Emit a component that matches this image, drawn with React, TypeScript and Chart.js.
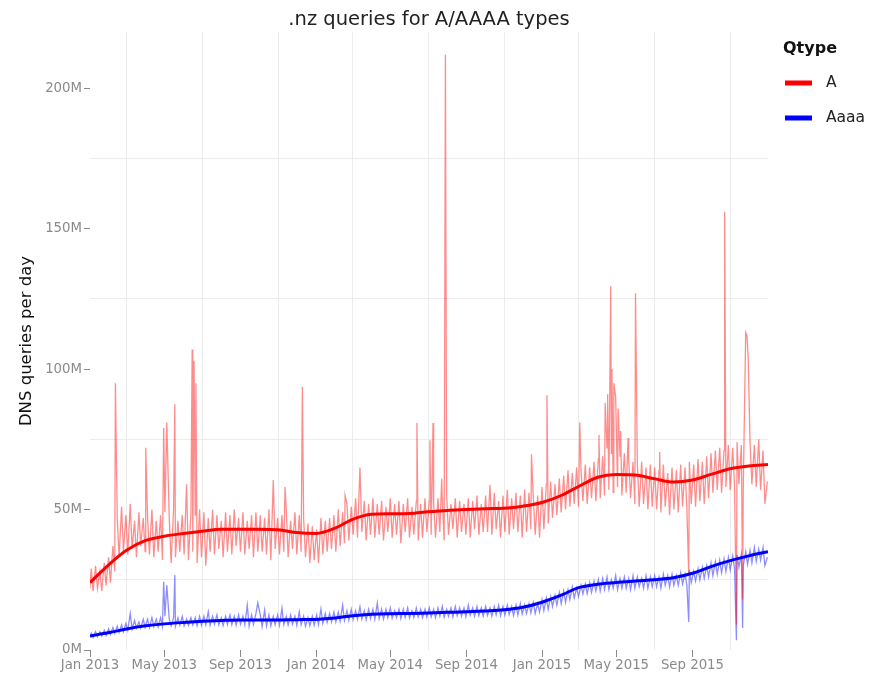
import React, { useEffect, useRef } from "react";
import { Chart, registerables } from "chart.js";

Chart.register(...registerables);

const FONT = '"DejaVu Sans", sans-serif';
const chartTitle = ".nz queries for A/AAAA types";
const yAxisTitle = "DNS queries per day";
const legendTitle = "Qtype";
const seriesNames = ["A", "Aaaa"];
const seriesColors = ["#ff0000", "#0000ff"];
const rawColors = ["rgba(255,0,0,0.45)", "rgba(0,0,255,0.45)"];

// x axis: months since Jan 2013
const startYear = 2013;
const totalMonths = 36;
const xMajorMonths = [0, 4, 8, 12, 16, 20, 24, 28, 32];
const xMajorLabels = ["Jan 2013", "May 2013", "Sep 2013", "Jan 2014", "May 2014", "Sep 2014", "Jan 2015", "May 2015", "Sep 2015"];
const xMinorMonths = [2, 6, 10, 14, 18, 22, 26, 30, 34];

// y axis (millions of queries)
const yMajorTicks = [0, 50, 100, 150, 200];
const yMajorLabels = ["0M", "50M", "100M", "150M", "200M"];
const yMinorTicks = [25, 75, 125, 175];
const yMax = 220;

// weekly weekday highs / weekend lows (M queries per day), weeks from 2013-01-01
const weekHighA = [
  29, 30, 28, 31, 33, 37, 47, 51, 48, 52, 46, 49, 47,
  47, 50, 46, 48, 49, 47, 50, 46, 48, 47, 49, 48, 50,
  49, 47, 50, 48, 46, 49, 48, 50, 47, 49, 46, 48, 49,
  48, 47, 50, 49, 47, 48, 50, 46, 49, 48, 47, 45, 44,
  43, 47, 46, 47, 48, 50, 49, 52, 51, 54, 55, 53, 52,
  54, 52, 53, 51, 54, 52, 53, 52, 54, 51, 53, 52, 54,
  53, 52, 54, 53, 55, 52, 54, 53, 52, 54, 53, 55, 52,
  55, 54, 56, 53, 55, 57, 54, 56, 55, 57, 56, 54, 55,
  58, 59, 60, 59, 61, 62, 64, 63, 65, 64, 66, 65, 67,
  68, 69, 72, 70, 71, 69, 70, 68, 67, 66, 67, 65, 66,
  65, 64, 66, 63, 65, 64, 66, 65, 67, 66, 68, 67, 69,
  70, 71, 72, 71, 73, 72, 74, 73, 72, 74, 73, 75, 71, 60,
];
const weekLowA = [
  21, 22, 21, 23, 24, 28, 33, 35, 34, 36, 33, 37, 35,
  34, 33, 35, 32, 36, 31, 33, 35, 34, 32, 35, 31, 33,
  30, 35, 34, 36, 33, 35, 34, 37, 35, 34, 36, 33, 35,
  35, 34, 32, 36, 34, 35, 33, 36, 34, 35, 33, 31, 32,
  31, 34, 35, 36, 35, 37, 38, 39, 41, 40, 42, 39, 41,
  40, 41, 39, 42, 40, 41, 38, 42, 40, 41, 39, 40, 42,
  41, 40, 42, 39, 41, 43, 40, 42, 41, 40, 43, 41, 42,
  42, 41, 43, 40, 42, 41, 43, 42, 40, 42, 43, 41, 40,
  43, 45, 47, 48, 49, 50, 51, 52, 51, 53, 52, 54, 53,
  54, 55, 57, 56, 58, 55, 56, 54, 52, 51, 52, 50, 51,
  50, 49, 51, 48, 50, 49, 51, 50, 52, 51, 53, 52, 54,
  56, 57, 56, 58, 57, 58, 59, 57, 58, 59, 58, 57, 52, 57,
];
const weekHighAaaa = [
  6, 6.5, 6.5, 7, 7.5, 8, 8.5, 9, 9.5, 13, 10.5, 10, 11,
  11, 11.5, 11, 11.5, 12, 11, 11.5, 11.5, 12, 11, 11.5, 11.5, 12,
  12, 13.6, 12, 12.5, 11.5, 12, 12.5, 12, 12.5, 12, 16, 12.5, 13,
  12.5, 14.2, 12.5, 12, 12.5, 14.9, 12, 12.5, 12, 13.6, 12, 11.5, 12,
  12.5, 14.6, 13, 13, 13.5, 13.5, 16, 14, 14.5, 14, 15.4, 14, 14.5,
  14.5, 16.7, 14.5, 14.5, 15, 14, 14.5, 14.5, 15, 14, 15, 14.5, 14.5,
  15, 14.5, 15, 15.5, 14.5, 15, 15.5, 15, 15, 16, 15, 15.5, 15,
  15.5, 15, 15.5, 16, 15.5, 16, 15.5, 16, 16.5, 16, 16.5, 17, 16.5,
  18, 18.5, 19, 19.5, 20.5, 21, 21.5, 22.5, 22, 23, 23.5, 24, 24.5,
  25, 25.5, 26, 25, 26.5, 25.5, 26, 25.5, 26.5, 26, 25.5, 26.5, 26,
  26.5, 26, 27, 26.5, 27, 26.5, 27.5, 27, 28.5, 28, 29, 29.5, 30,
  31, 31.5, 32, 32.5, 33, 33.5, 34, 34, 35, 35.5, 36.5, 36, 36.5, 33,
];
const weekLowAaaa = [
  4.5, 4.7, 5, 5.2, 5.5, 6, 6.2, 6.5, 7, 7.5, 7.8, 7.8, 8,
  8, 8.3, 8.2, 8.5, 8.4, 8.6, 8.5, 8.8, 8.5, 8.7, 8.9, 8.6, 8.8,
  9, 8.8, 9.2, 9, 8.7, 9.1, 9, 8.8, 9.2, 9, 8.5, 9.1, 8.9,
  8.3, 8.5, 8.6, 9, 8.8, 9, 8.9, 9.2, 8.8, 9, 8.5, 8.6, 8.8,
  9, 9.5, 9.8, 10, 10, 10.2, 10.5, 10.5, 10.8, 11, 11, 10.8, 11.2,
  11, 11.2, 11, 11.5, 11.3, 11.5, 11.2, 11.6, 11.4, 11.5, 11.8, 11.5, 11.7,
  11.8, 11.5, 12, 11.7, 12, 11.8, 12.2, 12, 11.8, 12.3, 12, 12.2, 12,
  12.3, 12, 12.5, 12.2, 12.4, 12.6, 12.3, 12.5, 12.8, 13, 13.2, 13, 13.5,
  14, 14.5, 15.5, 16, 16.5, 17, 18, 18.5, 19, 20, 20, 20.5, 21,
  21, 21.5, 21.5, 22, 21.5, 22, 22, 21.5, 22, 22.5, 22, 22, 22.5,
  22.5, 22, 23, 22.5, 23, 23, 23.5, 23, 24, 24.5, 25, 25.5, 26,
  26.5, 27, 27.5, 28, 28.5, 29, 29.5, 30, 30.5, 31, 31.5, 32, 30, 28.5,
];

// single-day spikes / dips (day index since 2013-01-01, value in M)
const spikeDaysA = [0, 41, 90, 119, 124, 137, 156, 165, 168, 171, 296, 315, 343, 412, 436, 528, 549, 554, 568, 574, 646, 713, 738, 791, 822, 832, 836, 841, 843, 846, 849, 853, 857, 869, 881, 920, 967, 1025, 1044, 1054, 1059, 1061, 1062, 1063];
const spikeValsA = [22, 95, 72, 79, 81, 87.5, 59, 107, 103, 95, 60.5, 58, 93.6, 55, 65, 80.8, 74.7, 80.8, 61, 212, 58.7, 69.7, 90.7, 81, 76.5, 88, 91, 129.5, 100, 95, 90, 86, 78, 75.5, 127, 70.5, 27, 156, 9, 18, 113, 112, 108, 104];
const spikeDaysAaaa = [0, 119, 124, 137, 271, 967, 1044, 1054];
const spikeValsAaaa = [4.5, 24.3, 23, 26.7, 16.8, 10, 3.5, 7.8];

// smoothed trend at each month start (Jan 2013 .. Jan 2016)
const smoothA = [24, 30.5, 35.5, 39, 40.5, 41.5, 42.3, 43, 43, 43, 42.8, 41.8, 41.5, 43.4, 46.5, 48.3, 48.5, 48.6, 49.2, 49.7, 50, 50.3, 50.5, 51.2, 52.5, 55, 58.2, 61.5, 62.5, 62.3, 61, 59.8, 60.5, 62.5, 64.5, 65.5, 66];
const smoothAaaa = [5, 6.2, 7.5, 8.6, 9.3, 9.8, 10.2, 10.5, 10.7, 10.7, 10.7, 10.8, 10.9, 11.4, 12.2, 12.7, 12.9, 13.0, 13.2, 13.4, 13.6, 13.9, 14.3, 15.2, 17, 19.5, 22.2, 23.4, 24, 24.6, 25, 25.7, 27.3, 29.7, 31.8, 33.5, 35];

const DAY_MS = 86400000;
const monthDay = (m: number) => Math.round((Date.UTC(startYear, m, 1) - Date.UTC(startYear, 0, 1)) / DAY_MS);
const lastDay = monthDay(totalMonths);

function buildRaw(highs: number[], lows: number[], sDays: number[], sVals: number[]) {
  const map = new Map<number, number>();
  highs.forEach((v, w) => { const d = w * 7 + 2; if (d < lastDay) map.set(d, v); });
  lows.forEach((v, w) => { const d = w * 7 + 5; if (d < lastDay) map.set(d, v); });
  sDays.forEach((d, i) => map.set(d, sVals[i]));
  return [...map.keys()].sort((a, b) => a - b).map((d) => ({ x: d, y: map.get(d) as number }));
}

const near = (arr: number[], v: number) => arr.some((a) => Math.abs(a - v) < 1e-6);

const legendPlugin = {
  id: "qtypeLegend",
  afterDraw(chart: any) {
    const { ctx, chartArea } = chart;
    const x0 = chartArea.right + 15;
    ctx.save();
    ctx.textBaseline = "middle";
    ctx.textAlign = "left";
    ctx.fillStyle = "#111";
    ctx.font = `bold 16px ${FONT}`;
    ctx.fillText(legendTitle, x0, chartArea.top + 17);
    seriesNames.forEach((name, i) => {
      const y = chartArea.top + 51 + i * 35;
      ctx.strokeStyle = seriesColors[i];
      ctx.lineWidth = 5;
      ctx.beginPath();
      ctx.moveTo(x0 + 2, y);
      ctx.lineTo(x0 + 29, y);
      ctx.stroke();
      ctx.fillStyle = "#222";
      ctx.font = `15.5px ${FONT}`;
      ctx.fillText(name, x0 + 43, y);
    });
    ctx.restore();
  },
};

export default function App() {
  const ref = useRef<HTMLCanvasElement>(null);
  useEffect(() => {
    const canvas = ref.current;
    if (!canvas) return;
    const rawA = buildRaw(weekHighA, weekLowA, spikeDaysA, spikeValsA);
    const rawAaaa = buildRaw(weekHighAaaa, weekLowAaaa, spikeDaysAaaa, spikeValsAaaa);
    const smA = smoothA.map((v, m) => ({ x: monthDay(m), y: v }));
    const smAaaa = smoothAaaa.map((v, m) => ({ x: monthDay(m), y: v }));
    const majorDays = xMajorMonths.map(monthDay);
    const minorDays = xMinorMonths.map(monthDay);
    const allX = [...majorDays, ...minorDays].sort((a, b) => a - b);
    const allY = [...yMajorTicks, ...yMinorTicks].sort((a, b) => a - b);
    const tickFont = { family: FONT, size: 13.3 };
    const gridColor = "#ececec";
    const tickGray = "#8a8a8a";
    const none = "rgba(0,0,0,0)";

    const chart = new Chart(canvas, {
      type: "line",
      data: {
        datasets: [
          { label: seriesNames[0], data: smA, borderColor: seriesColors[0], backgroundColor: seriesColors[0], borderWidth: 3, pointRadius: 0, cubicInterpolationMode: "monotone", order: 0 },
          { label: seriesNames[1], data: smAaaa, borderColor: seriesColors[1], backgroundColor: seriesColors[1], borderWidth: 3, pointRadius: 0, cubicInterpolationMode: "monotone", order: 0 },
          { label: seriesNames[0] + " raw", data: rawA, borderColor: rawColors[0], borderWidth: 1.3, pointRadius: 0, tension: 0, order: 1 },
          { label: seriesNames[1] + " raw", data: rawAaaa, borderColor: rawColors[1], borderWidth: 1.3, pointRadius: 0, tension: 0, order: 1 },
        ],
      } as any,
      options: {
        animation: false,
        responsive: false,
        maintainAspectRatio: false,
        devicePixelRatio: 1,
        parsing: false,
        layout: { padding: { left: 0, right: 112, top: 0, bottom: 0 } },
        plugins: {
          legend: { display: false },
          tooltip: { enabled: false },
          title: {
            display: true,
            text: chartTitle,
            fullSize: false,
            color: "#222",
            font: { family: FONT, size: 19.5, weight: "normal", lineHeight: 1.0 },
            padding: { top: 10, bottom: 2.5 },
          },
        },
        scales: {
          x: {
            type: "linear",
            min: 0,
            max: lastDay,
            afterBuildTicks: (s: any) => { s.ticks = allX.map((v) => ({ value: v })); },
            afterFit: (s: any) => { s.height = 24; },
            border: { display: false },
            grid: {
              color: (c: any) => (c.tick && near(minorDays, c.tick.value) ? gridColor : none),
              tickColor: (c: any) => (c.tick && near(majorDays, c.tick.value) ? tickGray : none),
              tickLength: 7,
              lineWidth: 1,
            },
            ticks: {
              autoSkip: false,
              maxRotation: 0,
              minRotation: 0,
              padding: 1,
              color: tickGray,
              font: tickFont,
              callback: (v: any) => {
                const i = majorDays.findIndex((d) => Math.abs(d - Number(v)) < 1e-6);
                return i >= 0 ? xMajorLabels[i] : "";
              },
            },
          },
          y: {
            type: "linear",
            min: 0,
            max: yMax,
            afterBuildTicks: (s: any) => { s.ticks = allY.map((v) => ({ value: v })); },
            afterFit: (s: any) => { s.width = 90; },
            border: { display: false },
            grid: {
              color: (c: any) => (c.tick && near(yMinorTicks, c.tick.value) ? gridColor : none),
              tickColor: (c: any) => (c.tick && near(yMajorTicks, c.tick.value) ? tickGray : none),
              tickLength: 6,
              lineWidth: 1,
            },
            ticks: {
              autoSkip: false,
              padding: 2,
              color: tickGray,
              font: tickFont,
              callback: (v: any) => {
                const i = yMajorTicks.findIndex((t) => Math.abs(t - Number(v)) < 1e-6);
                return i >= 0 ? yMajorLabels[i] : "";
              },
            },
            title: {
              display: true,
              text: yAxisTitle,
              color: "#111",
              font: { family: FONT, size: 16.5 },
              padding: { top: 17, bottom: 0 },
            },
          },
        },
      } as any,
      plugins: [legendPlugin],
    });
    return () => chart.destroy();
  }, []);

  return (
    <div style={{ position: "absolute", left: 0, top: 0, width: 880, height: 674, background: "#fff" }}>
      <canvas ref={ref} width={880} height={674} style={{ display: "block", width: 880, height: 674 }} />
    </div>
  );
}
